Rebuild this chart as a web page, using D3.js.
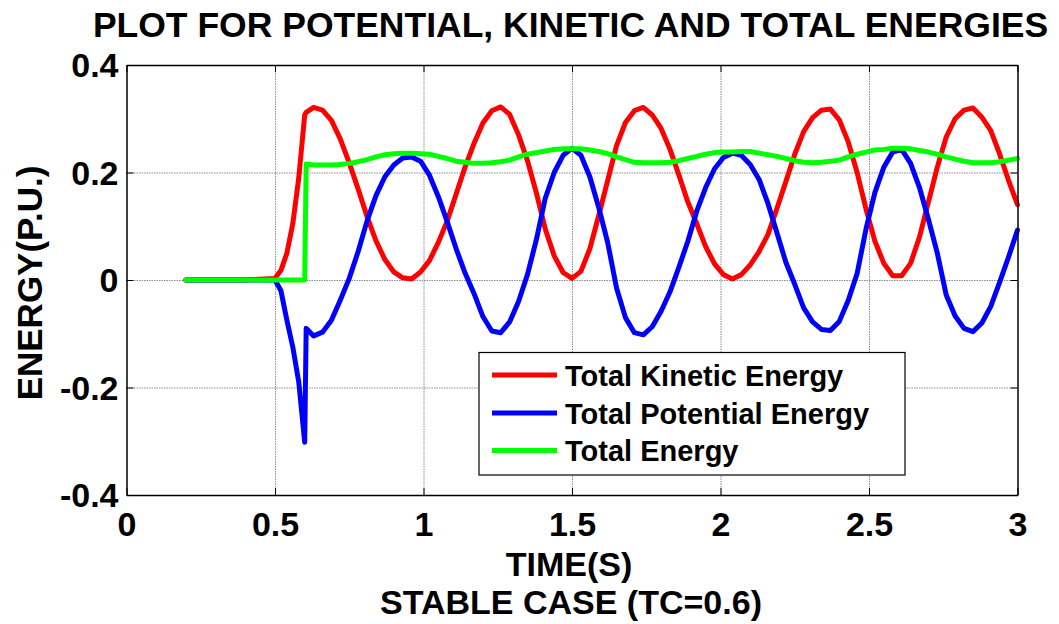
<!DOCTYPE html>
<html>
<head>
<meta charset="utf-8">
<script src="https://cdn.jsdelivr.net/npm/d3@7"></script>
<style>
  html, body { margin: 0; padding: 0; background: #fff; }
  svg { display: block; }
  text { font-family: "Liberation Sans", Arial, sans-serif; font-weight: bold; fill: #000; }
</style>
</head>
<body>
<svg id="chart" width="1059" height="624"></svg>
<script>
// Simulation time (s)
const time = [0.2,0.3,0.4,0.5,0.52,0.54,0.56,0.58,0.6,0.605,
  0.63,0.66,0.69,0.72,0.75,0.78,0.81,0.84,0.87,0.9,
  0.93,0.96,0.99,1.02,1.05,1.08,1.11,1.14,1.17,1.2,
  1.23,1.26,1.29,1.32,1.35,1.38,1.41,1.44,1.47,1.5,
  1.53,1.56,1.59,1.62,1.65,1.68,1.71,1.74,1.77,1.8,
  1.83,1.86,1.89,1.92,1.95,1.98,2.01,2.04,2.07,2.1,
  2.13,2.16,2.19,2.22,2.25,2.28,2.31,2.34,2.37,2.4,
  2.43,2.46,2.49,2.52,2.55,2.58,2.61,2.64,2.67,2.7,
  2.73,2.76,2.79,2.82,2.85,2.88,2.91,2.94,2.97,3.0];

// Total kinetic energy (p.u.)
const kinetic = [0,0,0,0.003,0.018,0.05,0.105,0.19,0.307,0.312,
  0.321,0.316,0.297,0.262,0.218,0.169,0.118,0.073,0.038,0.015,
  0.004,0.002,0.015,0.036,0.07,0.11,0.16,0.21,0.254,0.292,
  0.315,0.322,0.308,0.27,0.222,0.162,0.095,0.045,0.014,0.003,
  0.016,0.058,0.12,0.185,0.25,0.293,0.315,0.321,0.307,0.282,
  0.243,0.195,0.145,0.105,0.062,0.03,0.01,0.002,0.01,0.028,
  0.053,0.085,0.133,0.183,0.234,0.276,0.302,0.316,0.318,0.298,
  0.257,0.2,0.132,0.072,0.031,0.008,0.008,0.031,0.08,0.145,
  0.21,0.266,0.3,0.316,0.32,0.303,0.278,0.234,0.185,0.14];

// Total potential energy (p.u.)
const potential = [0,0,0,0,-0.02,-0.075,-0.125,-0.19,-0.302,-0.09,
  -0.104,-0.097,-0.075,-0.037,0.003,0.053,0.11,0.157,0.192,0.214,
  0.227,0.229,0.221,0.195,0.155,0.108,0.058,0.013,-0.025,-0.068,
  -0.095,-0.098,-0.078,-0.04,0.01,0.075,0.152,0.2,0.232,0.245,
  0.232,0.192,0.135,0.07,-0.015,-0.07,-0.098,-0.102,-0.087,-0.058,
  -0.022,0.024,0.072,0.128,0.172,0.207,0.228,0.236,0.232,0.215,
  0.187,0.142,0.088,0.033,-0.008,-0.052,-0.078,-0.092,-0.094,-0.077,
  -0.038,0.012,0.095,0.163,0.21,0.238,0.243,0.217,0.172,0.113,
  0.05,-0.028,-0.067,-0.09,-0.096,-0.08,-0.049,-0.004,0.043,0.093];

// Total energy (p.u.)
const total = [0,0,0,0,0,0,0,0,0,0.216,
  0.214,0.214,0.214,0.215,0.217,0.22,0.224,0.229,0.233,0.235,
  0.236,0.236,0.235,0.234,0.23,0.226,0.221,0.219,0.217,0.217,
  0.218,0.22,0.223,0.229,0.234,0.237,0.24,0.243,0.244,0.244,
  0.244,0.242,0.239,0.235,0.229,0.224,0.219,0.218,0.218,0.218,
  0.219,0.222,0.226,0.23,0.234,0.237,0.238,0.238,0.239,0.239,
  0.236,0.233,0.23,0.226,0.222,0.219,0.218,0.219,0.221,0.223,
  0.229,0.234,0.238,0.242,0.243,0.245,0.245,0.244,0.241,0.238,
  0.234,0.229,0.225,0.221,0.218,0.218,0.218,0.22,0.223,0.226];

const xTicks = [0, 0.5, 1, 1.5, 2, 2.5, 3];
const xTickLabels = ["0", "0.5", "1", "1.5", "2", "2.5", "3"];
const yTicks = [-0.4, -0.2, 0, 0.2, 0.4];
const yTickLabels = ["-0.4", "-0.2", "0", "0.2", "0.4"];

const seriesNames = ["Total Kinetic Energy", "Total Potential Energy", "Total Energy"];
const seriesValues = [kinetic, potential, total];
const seriesColors = ["#ff0000", "#0000ff", "#00ff00"];

const svg = d3.select("#chart");
const plot = { left: 126.5, right: 1017.5, top: 65, bottom: 495 };
const W = plot.right - plot.left, H = plot.bottom - plot.top;

const x = d3.scaleLinear().domain([0, 3]).range([plot.left, plot.right]);
const y = d3.scaleLinear().domain([-0.4, 0.4]).range([plot.bottom, plot.top]);

// grid
const grid = svg.append("g").attr("class", "grid");
grid.append("g")
  .attr("transform", `translate(0,${plot.bottom})`)
  .call(d3.axisBottom(x).tickValues(xTicks.slice(1, -1)).tickSize(-H).tickFormat(""));
grid.append("g")
  .attr("transform", `translate(${plot.left},0)`)
  .call(d3.axisLeft(y).tickValues(yTicks.slice(1, -1)).tickSize(-W).tickFormat(""));
grid.selectAll(".domain").remove();
grid.selectAll("line").attr("stroke", "#8c8c8c").attr("stroke-width", 1).attr("stroke-dasharray", "1.5,1");

// energy curves
const line = d3.line().x(d => x(d[0])).y(d => y(d[1]));
seriesValues.forEach((vals, i) => {
  svg.append("path")
    .datum(time.map((t, k) => [t, vals[k]]))
    .attr("d", line)
    .attr("fill", "none")
    .attr("stroke", seriesColors[i])
    .attr("stroke-width", 5)
    .attr("stroke-linejoin", "round")
    .attr("stroke-linecap", "round");
});

// axes with inward ticks on all four sides
const tickLen = 7;
const axB = svg.append("g").attr("transform", `translate(0,${plot.bottom})`)
  .call(d3.axisBottom(x).tickValues(xTicks).tickSizeInner(-tickLen).tickSizeOuter(0)
    .tickFormat((d, i) => xTickLabels[i]));
const axT = svg.append("g").attr("transform", `translate(0,${plot.top})`)
  .call(d3.axisTop(x).tickValues(xTicks).tickSizeInner(-tickLen).tickSizeOuter(0).tickFormat(""));
const axL = svg.append("g").attr("transform", `translate(${plot.left},0)`)
  .call(d3.axisLeft(y).tickValues(yTicks).tickSizeInner(-tickLen).tickSizeOuter(0)
    .tickFormat((d, i) => yTickLabels[i]));
const axR = svg.append("g").attr("transform", `translate(${plot.right},0)`)
  .call(d3.axisRight(y).tickValues(yTicks).tickSizeInner(-tickLen).tickSizeOuter(0).tickFormat(""));

[axB, axT, axL, axR].forEach(a => {
  a.select(".domain").attr("stroke", "#000").attr("stroke-width", 1.5);
  a.selectAll(".tick line").attr("stroke", "#000").attr("stroke-width", 1);
  a.selectAll("text").attr("font-family", null).attr("font-size", null);
});
axB.selectAll(".tick text")
  .attr("y", 41).attr("dy", null)
  .style("font-size", "34px");
axL.selectAll(".tick text")
  .attr("x", -8).attr("dy", "0.35em")
  .style("font-size", "34px");

// titles
svg.append("text")
  .attr("x", 570.5).attr("y", 36.5)
  .attr("text-anchor", "middle")
  .style("font-size", "35.5px")
  .text("PLOT FOR POTENTIAL, KINETIC AND TOTAL ENERGIES");
svg.append("text")
  .attr("x", 569).attr("y", 576)
  .attr("text-anchor", "middle")
  .style("font-size", "34px")
  .text("TIME(S)");
svg.append("text")
  .attr("x", 571).attr("y", 614)
  .attr("text-anchor", "middle")
  .style("font-size", "34px")
  .text("STABLE CASE (TC=0.6)");
svg.append("text")
  .attr("transform", "translate(42,283) rotate(-90)")
  .attr("text-anchor", "middle")
  .style("font-size", "35px")
  .text("ENERGY(P.U.)");

// legend
const leg = svg.append("g");
leg.append("rect")
  .attr("x", 479).attr("y", 352.5).attr("width", 426).attr("height", 122.5)
  .attr("fill", "#fff").attr("stroke", "#000").attr("stroke-width", 1.2);
const rowY = [375, 413, 450.5];
seriesNames.forEach((name, i) => {
  leg.append("line")
    .attr("x1", 492).attr("x2", 557)
    .attr("y1", rowY[i]).attr("y2", rowY[i])
    .attr("stroke", seriesColors[i]).attr("stroke-width", 5);
  leg.append("text")
    .attr("x", 565).attr("y", rowY[i] + 10.5)
    .style("font-size", "29px")
    .text(name);
});
</script>
</body>
</html>
